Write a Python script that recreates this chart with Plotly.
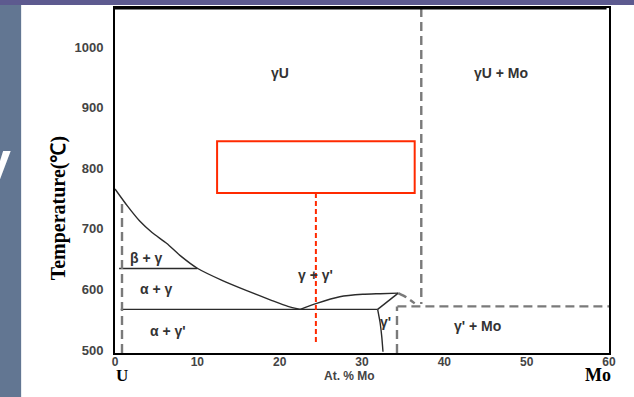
import plotly.graph_objects as go

# phase boundaries (At. % Mo, temperature in C)
gamma_x = [0, 1.5, 3, 4.5, 6.3, 8, 10, 13, 16, 19, 21, 22.5]
gamma_t = [766, 738, 713, 694, 676, 655, 635, 615, 598, 582, 572, 567]

dome_x = [22.5, 24.5, 27.3, 30.1, 32.2, 34.4]
dome_t = [567, 577, 588, 592, 593, 594]

eutectoid_x = [0.7, 31.9]
eutectoid_t = [567, 567]

beta_x = [0.5, 10]
beta_t = [634.5, 634.5]

apex_x = [34.4, 31.9]
apex_t = [594, 567]

gprime_x = [31.9, 32.2, 32.4, 32.55]
gprime_t = [567, 545, 522, 497]

# dashed (uncertain) boundaries
left_dash_x = [0.85, 0.85]
left_dash_t = [495, 746]
arc_x = [34.4, 35.4, 36.4]
arc_t = [594, 587, 577]
mo_dash_x = [34.3, 60]
mo_dash_t = [572, 572]
gp_dash_x = [34.25, 34.25]
gp_dash_t = [495, 572]
top_dash_x = [37.2, 37.2]
top_dash_t = [1065, 576]

# highlighted window
box_x = [12.4, 36.4]
box_t = [759.5, 845]
marker_x = [24.4, 24.4]
marker_t = [759.5, 511]

region_labels = ["γU", "γU + Mo", "β + γ", "α + γ", "α + γ'", "γ + γ'", "γ'", "γ' + Mo"]
region_x = [20.1, 46.9, 3.8, 5.0, 6.4, 24.4, 32.8, 44.0]
region_t = [957, 957, 652, 601, 532, 624, 547, 539]

x_ticks = [0, 10, 20, 30, 40, 50, 60]
t_ticks = [500, 600, 700, 800, 900, 1000]

LINE = "#2b2b2b"
DASH = "#7a7a7a"
RED = "#ff2a00"

fig = go.Figure()


def add_line(x, y, color, width, dash="solid"):
    fig.add_trace(go.Scatter(x=x, y=y, mode="lines", showlegend=False, hoverinfo="skip",
                             line=dict(color=color, width=width, dash=dash, shape="spline",
                                       smoothing=0.6)))


for xs, ts in [(gamma_x, gamma_t), (dome_x, dome_t), (eutectoid_x, eutectoid_t),
               (beta_x, beta_t), (apex_x, apex_t), (gprime_x, gprime_t)]:
    add_line(xs, ts, LINE, 1.4)

for xs, ts in [(left_dash_x, left_dash_t), (arc_x, arc_t), (mo_dash_x, mo_dash_t),
               (gp_dash_x, gp_dash_t), (top_dash_x, top_dash_t)]:
    add_line(xs, ts, DASH, 2.4, "9px,5px")

add_line(marker_x, marker_t, RED, 2, "5px,3px")

fig.add_shape(type="rect", x0=box_x[0], x1=box_x[1], y0=box_t[0], y1=box_t[1],
              line=dict(color=RED, width=2))

for lab, x, t in zip(region_labels, region_x, region_t):
    fig.add_annotation(x=x, y=t, text=lab, showarrow=False,
                       font=dict(family="Liberation Sans", size=14, color="#333", weight="bold"))

# slide background peeking around the picture
fig.add_shape(type="rect", xref="paper", yref="paper", x0=-0.24, x1=-0.19, y0=-0.2, y1=1.03,
              fillcolor="#627692", line=dict(width=0), layer="below")
fig.add_shape(type="rect", xref="paper", yref="paper", x0=-0.24, x1=1.1, y0=1.0086, y1=1.03,
              fillcolor="#5d5a8f", line=dict(width=0), layer="below")
fig.add_annotation(xref="paper", yref="paper", x=-0.207, y=0.56, text="y", showarrow=False,
                   xanchor="right", yanchor="middle",
                   font=dict(family="Liberation Sans", size=52, color="white", weight="bold"))

# thick top border
fig.add_shape(type="line", xref="paper", yref="paper", x0=0, x1=0.995, y0=1.0, y1=1.0,
              line=dict(color="black", width=3))

fig.add_annotation(xref="paper", yref="paper", x=(349 - 115) / 494, y=(353 - 385) / 347,
                   text="At. % Mo", showarrow=False,
                   font=dict(family="Liberation Sans", size=12, color="#444", weight="bold"))
fig.add_annotation(xref="paper", yref="paper", x=(45 - 115) / 494, y=(353 - 208) / 347,
                   text="Temperature(℃)", showarrow=False, textangle=-90,
                   font=dict(family="Liberation Serif", size=20, color="black", weight="bold"))
fig.add_annotation(xref="paper", yref="paper", x=(114 - 115) / 494, y=(353 - 387) / 347,
                   text="U", showarrow=False,
                   font=dict(family="Liberation Serif", size=17, color="black", weight="bold"))
fig.add_annotation(xref="paper", yref="paper", x=(613 - 115) / 494, y=(353 - 387) / 347,
                   text="Mo", showarrow=False,
                   font=dict(family="Liberation Serif", size=18, color="black", weight="bold"))

fig.update_xaxes(range=[0, 60], tickvals=x_ticks, showgrid=False, zeroline=False,
                 showline=True, linecolor="black", linewidth=2, mirror=True, ticks="",
                 ticklabelstandoff=-3,
                 tickfont=dict(family="Liberation Sans", size=12, color="#444", weight="bold"))
fig.update_yaxes(range=[495, 1065], tickvals=t_ticks, showgrid=False, zeroline=False,
                 showline=True, linecolor="black", linewidth=2, mirror=True, ticks="",
                 ticklabelstandoff=7,
                 tickfont=dict(family="Liberation Sans", size=13, color="#444", weight="bold"))

fig.update_layout(width=634, height=397, margin=dict(l=115, r=25, t=6, b=44),
                  paper_bgcolor="white", plot_bgcolor="white")

# the page's default body margin would shift the figure by 8px
fig.write_html("out.html", config={"displayModeBar": False},
               post_script="document.body.style.margin = '0px';")
